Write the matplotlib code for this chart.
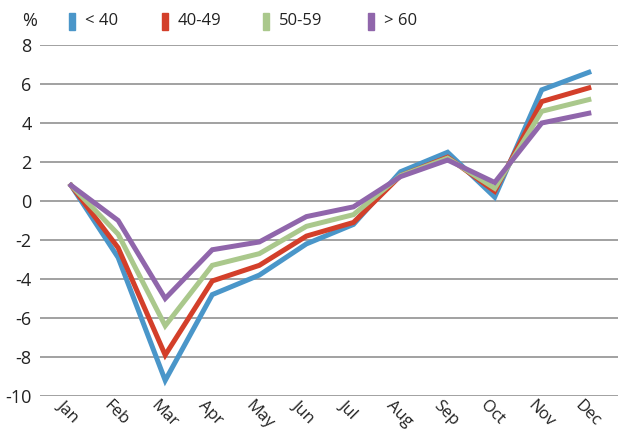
import matplotlib.pyplot as plt
from matplotlib.patches import Rectangle
from matplotlib.transforms import ScaledTranslation

months = ['Jan', 'Feb', 'Mar', 'Apr', 'May', 'Jun',
          'Jul', 'Aug', 'Sep', 'Oct', 'Nov', 'Dec']
groups = ['< 40', '40-49', '50-59', '> 60']

under_40 = [0.8, -2.9, -9.2, -4.8, -3.8, -2.2, -1.2, 1.5, 2.5, 0.2, 5.7, 6.6]
age_40_49 = [0.8, -2.4, -7.9, -4.1, -3.3, -1.8, -1.1, 1.3, 2.25, 0.5, 5.1, 5.8]
age_50_59 = [0.8, -1.7, -6.4, -3.3, -2.7, -1.3, -0.7, 1.3, 2.2, 0.65, 4.6, 5.2]
over_60 = [0.8, -1.0, -5.0, -2.5, -2.1, -0.8, -0.3, 1.25, 2.1, 0.95, 4.0, 4.5]

series = [under_40, age_40_49, age_50_59, over_60]
colors = ['#4a96c9', '#d33f2a', '#aac88c', '#9066ab']

plt.rcParams['font.family'] = ['Open Sans', 'DejaVu Sans']
plt.rcParams['axes.unicode_minus'] = False

fig = plt.figure(figsize=(6.18, 4.34), dpi=100)
ax = fig.add_axes([40 / 618, 1 - 396 / 434, 578 / 618, 351 / 434])

x = list(range(len(months)))
for values, color in zip(series, colors):
    ax.plot(x, values, color=color, lw=3.6, solid_joinstyle='miter', zorder=3)

ax.set_ylim(-10, 8)
ax.set_yticks(range(-10, 9, 2))
ax.set_xlim(-0.66, 11.62)
ax.set_xticks(x)
ax.set_xticklabels(months, rotation=-45, ha='left', va='top',
                   rotation_mode='anchor', fontsize=12, color='#222222')
ax.tick_params(axis='x', length=0, pad=4)
ax.tick_params(axis='y', length=0, pad=6, labelsize=13, labelcolor='#222222')
shift = ScaledTranslation(-6 / 100, 4 / 100, fig.dpi_scale_trans)
for lbl in ax.get_xticklabels():
    lbl.set_transform(lbl.get_transform() + shift)

ax.grid(axis='y', color='#9a9a9a', lw=1.3)
ax.set_axisbelow(True)
for s in ax.spines.values():
    s.set_visible(False)

# legend drawn as small upright colour bars along the top
fig.text(30 / 618, 1 - 21 / 434, '%', fontsize=13, ha='center', va='center',
         color='#222222')
legend_x = [69, 162, 263, 368]
for gx, name, color in zip(legend_x, groups, colors):
    fig.patches.append(Rectangle((gx / 618, 1 - 30 / 434), 6 / 618, 17 / 434,
                                 transform=fig.transFigure, color=color))
    fig.text((gx + 16) / 618, 1 - 21 / 434, name, fontsize=12,
             ha='left', va='center', color='#222222')

fig.savefig('out.png', dpi=100)
